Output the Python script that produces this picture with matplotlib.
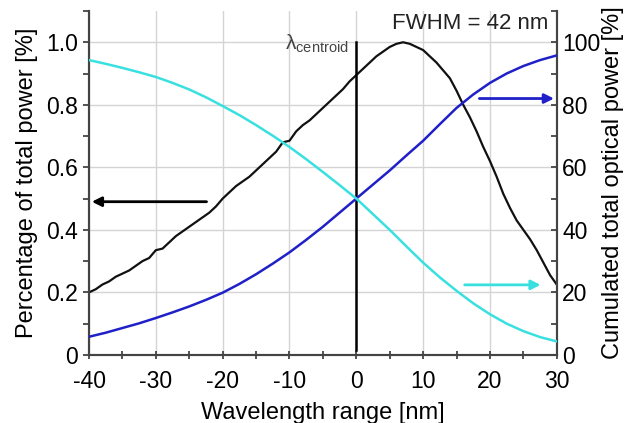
import numpy as np
import matplotlib.pyplot as plt
from matplotlib.ticker import MultipleLocator, FixedLocator

plt.rcParams['font.family'] = ['Liberation Sans', 'DejaVu Sans']
plt.rcParams['axes.unicode_minus'] = False

# spectrum (left axis), 1 nm steps
wl = np.arange(-40, 31, 1)
power = [0.20, 0.21, 0.225, 0.235, 0.25, 0.26, 0.27, 0.285, 0.30, 0.31,
         0.335, 0.34, 0.36, 0.38, 0.395, 0.41, 0.425, 0.44, 0.455, 0.475,
         0.50, 0.52, 0.54, 0.555, 0.57, 0.59, 0.61, 0.63, 0.65, 0.68,
         0.685, 0.715, 0.735, 0.75, 0.77, 0.79, 0.81, 0.83, 0.85, 0.875,
         0.895, 0.915, 0.935, 0.955, 0.97, 0.985, 0.995, 1.0, 0.995, 0.985,
         0.975, 0.955, 0.935, 0.91, 0.885, 0.845, 0.80, 0.76, 0.715, 0.665,
         0.62, 0.57, 0.515, 0.47, 0.43, 0.40, 0.37, 0.335, 0.295, 0.255,
         0.225]

# cumulated power (right axis), 2.5 nm steps
wl_cum = np.arange(-40, 30.1, 2.5)
cum_up = [5.8, 7.1, 8.6, 10.1, 11.8, 13.6, 15.5, 17.6, 19.9, 22.7,
          25.8, 29.2, 32.8, 36.8, 41.0, 45.5, 50.0, 54.5, 59.0, 63.8,
          68.5, 73.8, 79.0, 83.3, 87.0, 90.0, 92.4, 94.3, 95.8]
cum_down = [94.3, 93.1, 91.8, 90.4, 88.9, 87.0, 84.9, 82.4, 79.6, 76.7,
            73.5, 70.1, 66.5, 62.6, 58.5, 54.3, 50.0, 45.0, 40.0, 34.7,
            29.5, 24.8, 20.5, 16.5, 13.0, 10.0, 7.6, 5.7, 4.3]

fig = plt.figure(figsize=(6.27, 4.23), dpi=100)
ax = fig.add_axes([0.142, 0.161, 0.746, 0.813])
ax2 = ax.twinx()

ax.grid(True, which='major', color='#d4d4d4', lw=1.0)
ax.set_axisbelow(True)

ax.plot(wl, power, color='#111111', lw=1.6, zorder=3)
ax2.plot(wl_cum, cum_up, color='#2020c8', lw=1.8, zorder=3)
ax2.plot(wl_cum, cum_down, color='#3ae0e0', lw=1.8, zorder=3)

# centroid line
ax.plot([0, 0], [0.015, 1.0], color='black', lw=1.8, zorder=4)
ax.text(-10.6, 0.995, r'$\mathregular{\lambda_{centroid}}$', fontsize=15, color='#444444',
        ha='left', va='center')
ax.text(28.8, 1.06, 'FWHM = 42 nm', fontsize=16, color='#222222', ha='right', va='center')

# arrows pointing to axes
ax.annotate('', xy=(-40, 0.49), xytext=(-22, 0.49),
            arrowprops=dict(arrowstyle='-|>', color='black', lw=2, mutation_scale=14))
ax2.annotate('', xy=(30, 82), xytext=(18, 82),
             arrowprops=dict(arrowstyle='-|>', color='#2020c8', lw=2, mutation_scale=14))
ax2.annotate('', xy=(28, 22.4), xytext=(15.8, 22.4),
             arrowprops=dict(arrowstyle='-|>', color='#3ae0e0', lw=2, mutation_scale=14))

ax.set_xlim(-40, 30)
ax.set_ylim(0, 1.1)
ax2.set_ylim(0, 110)

ax.xaxis.set_major_locator(MultipleLocator(10))
ax.xaxis.set_minor_locator(MultipleLocator(5))
ax.yaxis.set_major_locator(FixedLocator([0, 0.2, 0.4, 0.6, 0.8, 1.0]))
ax.yaxis.set_minor_locator(FixedLocator([0.1, 0.3, 0.5, 0.7, 0.9, 1.1]))
ax.set_yticklabels(['0', '0.2', '0.4', '0.6', '0.8', '1.0'])
ax2.yaxis.set_major_locator(FixedLocator([0, 20, 40, 60, 80, 100]))
ax2.yaxis.set_minor_locator(FixedLocator([10, 30, 50, 70, 90, 110]))

for a in (ax, ax2):
    a.spines['top'].set_visible(False)
    for s in a.spines.values():
        s.set_color('#444444')
        s.set_linewidth(1.5)

ax.tick_params(axis='x', which='both', direction='inout', length=6, width=1.3,
               color='#444444', labelsize=16.5, pad=8)
ax.tick_params(axis='y', which='both', direction='out', length=4, width=1.3,
               color='#444444', labelsize=16.5, pad=4)
ax2.tick_params(axis='y', which='both', direction='in', length=4, width=1.3,
                color='#444444', labelsize=16.5, pad=4)

ax.set_xlabel('Wavelength range [nm]', fontsize=17, labelpad=6)
ax.set_ylabel('Percentage of total power [%]', fontsize=17, labelpad=6)
ax2.set_ylabel('Cumulated total optical power [%]', fontsize=17, labelpad=1)

fig.savefig('out.png', dpi=100)
